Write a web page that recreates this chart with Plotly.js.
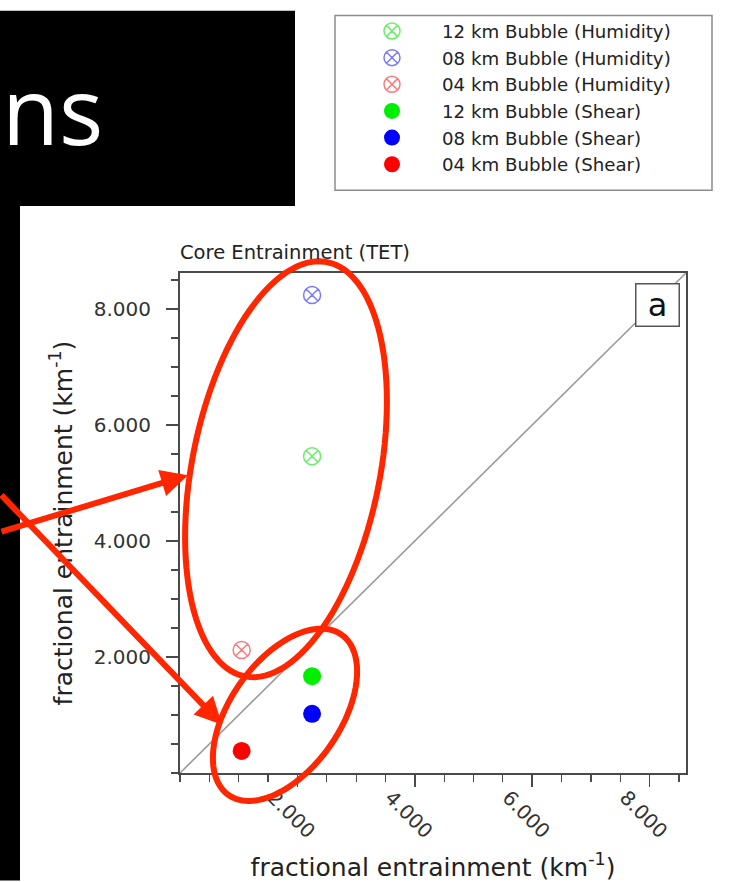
<!DOCTYPE html>
<html><head><meta charset="utf-8">
<script src="https://cdn.plot.ly/plotly-3.0.1.min.js"></script>
<style>html,body{margin:0;padding:0;background:#fff;overflow:hidden}#chart{width:751px;height:882px}</style>
</head><body><div id="chart"></div>
<script>
// ---- data ----
const seriesNames = ["12 km Bubble (Humidity)", "08 km Bubble (Humidity)", "04 km Bubble (Humidity)",
                     "12 km Bubble (Shear)", "08 km Bubble (Shear)", "04 km Bubble (Shear)"];
const xValues = [2.25, 2.25, 1.05, 2.25, 2.25, 1.05];
const yValues = [5.46, 8.24, 2.12, 1.67, 1.02, 0.38];
const seriesColors = ["#6aee6a", "#7a7aff", "#ff7a7a", "#00ee00", "#0000ff", "#ff0000"];
const seriesSymbols = ["circle-x-open", "circle-x-open", "circle-x-open", "circle", "circle", "circle"];
const tickValues = [2, 4, 6, 8];
const diagX = [0, 8.62];
const diagY = [0, 8.62];
const panelLabel = "a";
const plotTitle = "Core Entrainment (TET)";
const axisTitle = "fractional entrainment (km<sup>-1</sup>)";
const slideText = "ns";

// ---- geometry helpers (pixel -> paper) ----
const W = 751, H = 882, ML = 180, MR = 65, MT = 266, MB = 109;
const PW = W - ML - MR, PH = H - MT - MB;
const px2x = p => (p - ML) / PW;
const py2y = p => (MT + PH - p) / PH;

function ellipsePath(cx, cy, a, b, thetaDeg) {
  const th = thetaDeg * Math.PI / 180;
  const ux = Math.sin(th), uy = -Math.cos(th);
  const vx = Math.cos(th), vy = Math.sin(th);
  let d = '';
  const N = 120;
  for (let i = 0; i <= N; i++) {
    const t = 2 * Math.PI * i / N;
    const px = cx + a * Math.cos(t) * ux + b * Math.sin(t) * vx;
    const py = cy + a * Math.cos(t) * uy + b * Math.sin(t) * vy;
    d += (i ? 'L' : 'M') + px2x(px).toFixed(5) + ',' + py2y(py).toFixed(5);
  }
  return d + 'Z';
}

const FONT = "DejaVu Sans, Liberation Sans, Arial, sans-serif";
const RED = "#ff2600";

const traces = [{
  x: diagX, y: diagY, mode: 'lines', showlegend: false, hoverinfo: 'skip',
  line: {color: '#9a9a9a', width: 1.6}
}];
for (let i = 0; i < seriesNames.length; i++) {
  const open = seriesSymbols[i].indexOf('open') >= 0;
  traces.push({
    x: [xValues[i]], y: [yValues[i]], name: seriesNames[i], mode: 'markers', type: 'scatter',
    marker: {symbol: seriesSymbols[i], size: open ? 17 : 18, color: seriesColors[i],
             line: {color: seriesColors[i], width: open ? 1.5 : 0}}
  });
}

const axisCommon = {
  range: [0, 8.62], tickmode: 'array', tickvals: tickValues, tickformat: '.3f',
  showline: true, mirror: true, linecolor: '#4a4a4a', linewidth: 2,
  ticks: 'outside', ticklen: 12, tickwidth: 1.5, tickcolor: '#4a4a4a',
  minor: {tick0: 0, dtick: 0.5, ticks: 'outside', ticklen: 7, tickwidth: 1.2, tickcolor: '#4a4a4a'},
  showgrid: false, zeroline: false,
  tickfont: {family: FONT, size: 20, color: '#333'}
};

const layout = {
  width: W, height: H, margin: {l: ML, r: MR, t: MT, b: MB, pad: 0},
  paper_bgcolor: '#fff', plot_bgcolor: '#fff',
  title: {text: plotTitle, font: {family: FONT, size: 19.5, color: '#222'},
          xref: 'paper', x: 0, xanchor: 'left', yref: 'container', y: 1 - 252 / H, yanchor: 'middle'},
  xaxis: Object.assign({}, axisCommon, {tickangle: 45, ticklabelshift: -24, ticklabelstandoff: -9,
          title: {text: axisTitle, font: {family: FONT, size: 25, color: '#222'}, standoff: 18}}),
  yaxis: Object.assign({}, axisCommon, {ticklabelstandoff: 11,
          title: {text: axisTitle, font: {family: FONT, size: 25, color: '#222'}, standoff: 14}}),
  showlegend: true,
  legend: {x: px2x(342), xanchor: 'left', y: py2y(2), yanchor: 'top', itemwidth: 90,
           bgcolor: 'rgba(0,0,0,0)', borderwidth: 0, traceorder: 'normal',
           font: {family: FONT, size: 18.2, color: '#222'}},
  shapes: [
    {type: 'rect', xref: 'paper', yref: 'paper', x0: px2x(0), x1: px2x(295), y0: py2y(0), y1: py2y(198),
     fillcolor: '#000', line: {width: 0}, layer: 'above'},
    {type: 'rect', xref: 'paper', yref: 'paper', x0: px2x(0), x1: px2x(20), y0: py2y(198), y1: py2y(H),
     fillcolor: '#000', line: {width: 0}, layer: 'above'},
    {type: 'rect', xref: 'paper', yref: 'paper', x0: px2x(335), x1: px2x(712), y0: py2y(5), y1: py2y(182),
     fillcolor: '#fff', line: {color: '#8c8c8c', width: 1.5}, layer: 'below'},
    {type: 'path', xref: 'paper', yref: 'paper', path: ellipsePath(286, 465, 214, 94, 11),
     line: {color: RED, width: 6}, fillcolor: 'rgba(0,0,0,0)', layer: 'above'},
    {type: 'path', xref: 'paper', yref: 'paper', path: ellipsePath(285, 714, 99, 55, 34.5),
     line: {color: RED, width: 6}, fillcolor: 'rgba(0,0,0,0)', layer: 'above'}
  ],
  annotations: [
    {xref: 'paper', yref: 'paper', x: px2x(657.5), y: py2y(298), text: panelLabel, showarrow: false,
     font: {family: FONT, size: 32, color: '#111'}, bgcolor: '#fff', bordercolor: '#555', borderwidth: 1.5,
     borderpad: 1, width: 40, height: 39, xanchor: 'center', yanchor: 'middle'},
    {xref: 'paper', yref: 'paper', x: px2x(0), y: py2y(100), text: slideText, showarrow: false,
     font: {family: "Liberation Sans Narrow, Open Sans, sans-serif", size: 93, color: '#fff'},
     xanchor: 'left', yanchor: 'middle'},
    {xref: 'paper', yref: 'paper', x: px2x(188), y: py2y(471), text: '', showarrow: true,
     ax: -198, ay: 57, arrowhead: 2, arrowsize: 0.9, arrowwidth: 6, arrowcolor: RED, standoff: 0},
    {xref: 'paper', yref: 'paper', x: px2x(222), y: py2y(724), text: '', showarrow: true,
     ax: -232, ay: -231, arrowhead: 2, arrowsize: 0.9, arrowwidth: 6, arrowcolor: RED, standoff: 0}
  ]
};

Plotly.newPlot('chart', traces, layout, {displayModeBar: false, staticPlot: true});
</script></body></html>
